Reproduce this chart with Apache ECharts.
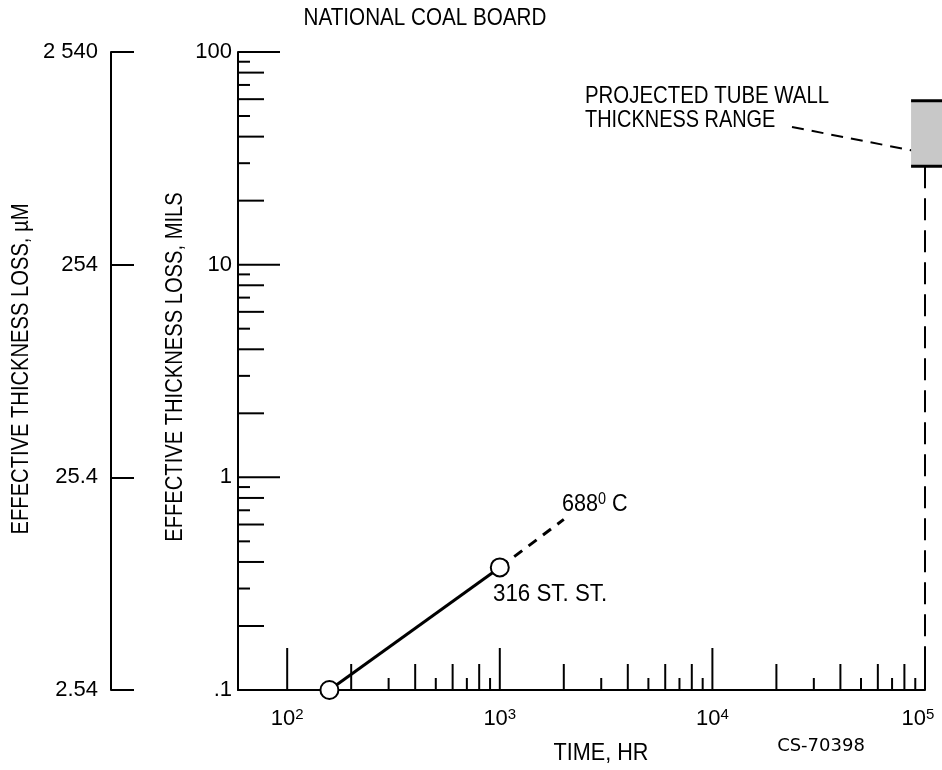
<!DOCTYPE html>
<html>
<head>
<meta charset="utf-8">
<script src="https://cdn.jsdelivr.net/npm/echarts@6/dist/echarts.min.js"></script>
<style>
html, body { margin: 0; background: #fff; }
#chart { width: 942px; height: 770px; }
</style>
</head>
<body>
<div id="chart"></div>
<script>
// 316 ST. ST. measured loss (hours, mils)
const measuredHours = [158, 1000];
const measuredLoss = [0.1, 0.377];
// dashed extrapolation
const extrapHours = [1000, 2000];
const extrapLoss = [0.377, 0.634];
// projected tube wall thickness range, mils
const wallHours = [86000, 130000];
const wallLoss = [29, 59];
const dropHours = [100000, 100000];
const dropLoss = [29, 0.1];

// axes
const xMin = 58.7;
const xDecades = [100, 1000, 10000, 100000];
const yDecades = [0.1, 1, 10, 100];
const milLabels = ['.1', '1', '10', '100'];
const umLabels = ['2.54', '25.4', '254', '2 540'];
const minorSteps = [2, 3, 4, 5, 6, 7, 8, 9];

const FONT = "'Liberation Sans', Arial, sans-serif";
const tickLen = [42, 26, 12];

function tickList(decades) {
    let out = [];
    decades.forEach(function (d, i) {
        out.push([d, 0]);
        if (i < decades.length - 1) {
            minorSteps.forEach(function (m) {
                out.push([d * m, m % 2 === 0 ? 1 : 2]);
            });
        }
    });
    return out;
}

const xTicks = tickList(xDecades).map(function (t) { return [t[0], yDecades[0], t[1]]; });
const yTicks = tickList(yDecades).map(function (t) { return [xMin, t[0], t[1]]; });

function zip(a, b) {
    return a.map(function (v, i) { return [v, b[i]]; });
}

// condensed-looking text: regular font squeezed horizontally
function label(text, x, y, align, sx, extra) {
    let el = {
        type: 'text', x: x, y: y, scaleX: sx,
        style: { text: text, font: '24px ' + FONT, fill: '#000', align: align, verticalAlign: 'middle' }
    };
    return Object.assign(el, extra || {});
}

let chart = echarts.init(document.getElementById('chart'));

let option = {
    animation: false,
    backgroundColor: '#fff',
    textStyle: { fontFamily: FONT, color: '#000' },
    grid: { left: 238, right: 17, top: 52, bottom: 80, containLabel: false, outerBoundsMode: 'none' },
    xAxis: {
        type: 'log',
        logBase: 10,
        min: xMin,
        max: 100000,
        axisLine: { lineStyle: { color: '#000', width: 2 } },
        axisTick: { show: false },
        splitLine: { show: false },
        axisLabel: {
            margin: 17,
            showMinLabel: true,
            formatter: function (v) {
                let e = Math.round(Math.log10(v));
                if (Math.abs(Math.log10(v) - e) > 1e-6) return '';
                return '{b|10}' + (e === 5 ? '{e|' : '{s|') + e + '}';
            },
            rich: {
                b: { fontFamily: FONT, fontSize: 22, lineHeight: 24, color: '#000' },
                s: { fontFamily: FONT, fontSize: 15, lineHeight: 15, verticalAlign: 'top', color: '#000' },
                e: { fontFamily: FONT, fontSize: 15, lineHeight: 15, verticalAlign: 'top', color: '#000', padding: [0, 14, 0, 0] }
            }
        }
    },
    yAxis: [{
        type: 'log',
        logBase: 10,
        min: 0.1,
        max: 100,
        position: 'left',
        axisLine: { lineStyle: { color: '#000', width: 2 } },
        axisTick: { show: false },
        splitLine: { show: false },
        axisLabel: {
            margin: 6,
            fontFamily: FONT,
            fontSize: 22,
            color: '#000',
            formatter: function (v) {
                return milLabels[Math.round(Math.log10(v)) + 1];
            }
        }
    }, {
        // micrometre scale, one step per decade
        type: 'value',
        min: 0,
        max: 3,
        interval: 1,
        position: 'left',
        offset: 127,
        axisLine: { show: true, lineStyle: { color: '#000', width: 2 } },
        axisTick: { show: true, inside: true, length: 23, lineStyle: { color: '#000', width: 2 } },
        splitLine: { show: false },
        axisLabel: {
            margin: 13,
            fontFamily: FONT,
            fontSize: 22,
            color: '#000',
            formatter: function (v) { return umLabels[Math.round(v)]; }
        }
    }],
    series: [{
        type: 'custom',
        clip: false,
        silent: true,
        encode: { x: 0, y: 1 },
        data: xTicks,
        renderItem: function (params, api) {
            let p = api.coord([api.value(0), api.value(1)]);
            return {
                type: 'line',
                shape: { x1: p[0], y1: p[1], x2: p[0], y2: p[1] - tickLen[api.value(2)] },
                style: { stroke: '#000', lineWidth: 2 }
            };
        }
    }, {
        type: 'custom',
        clip: false,
        silent: true,
        encode: { x: 0, y: 1 },
        data: yTicks,
        renderItem: function (params, api) {
            let p = api.coord([api.value(0), api.value(1)]);
            return {
                type: 'line',
                shape: { x1: p[0], y1: p[1], x2: p[0] + tickLen[api.value(2)], y2: p[1] },
                style: { stroke: '#000', lineWidth: 2 }
            };
        }
    }, {
        // shaded wall thickness range
        type: 'custom',
        clip: false,
        silent: true,
        encode: { x: [0, 2], y: [1, 3] },
        data: [[wallHours[0], wallLoss[0], wallHours[1], wallLoss[1]]],
        renderItem: function (params, api) {
            let a = api.coord([api.value(0), api.value(3)]);
            let b = api.coord([api.value(2), api.value(1)]);
            return {
                type: 'group',
                children: [{
                    type: 'rect',
                    shape: { x: a[0], y: a[1], width: b[0] - a[0], height: b[1] - a[1] },
                    style: { fill: '#c8c8c8' }
                }, {
                    type: 'line',
                    shape: { x1: a[0], y1: a[1], x2: b[0], y2: a[1] },
                    style: { stroke: '#000', lineWidth: 3 }
                }, {
                    type: 'line',
                    shape: { x1: a[0], y1: b[1], x2: b[0], y2: b[1] },
                    style: { stroke: '#000', lineWidth: 3 }
                }]
            };
        }
    }, {
        type: 'line',
        clip: false,
        silent: true,
        symbol: 'none',
        data: zip(dropHours, dropLoss),
        lineStyle: { color: '#000', width: 2, type: [22, 10] }
    }, {
        type: 'line',
        clip: false,
        silent: true,
        symbol: 'none',
        data: zip(extrapHours, extrapLoss),
        lineStyle: { color: '#000', width: 3, type: [10, 8] }
    }, {
        type: 'line',
        clip: false,
        silent: true,
        z: 5,
        symbol: 'circle',
        symbolSize: 18,
        data: zip(measuredHours, measuredLoss),
        itemStyle: { color: '#fff', borderColor: '#000', borderWidth: 2 },
        lineStyle: { color: '#000', width: 3 }
    }],
    graphic: [
        label('NATIONAL COAL BOARD', 425, 18, 'center', 0.86),
        label('EFFECTIVE THICKNESS LOSS, µM', 21, 369, 'center', 0.84, { rotation: Math.PI / 2 }),
        label('EFFECTIVE THICKNESS LOSS, MILS', 175, 367, 'center', 0.84, { rotation: Math.PI / 2 }),
        label('TIME, HR', 601, 753, 'center', 0.9),
        label('PROJECTED TUBE WALL', 585, 96, 'left', 0.85),
        label('THICKNESS RANGE', 585, 120, 'left', 0.83),
        label('316 ST. ST.', 493, 594, 'left', 0.93),
        { type: 'text', x: 821, y: 746, style: { text: 'CS-70398', font: "18px 'DejaVu Sans', sans-serif", fill: '#000', align: 'center', verticalAlign: 'middle' } },
        { type: 'line', shape: { x1: 792, y1: 127, x2: 920, y2: 152 }, style: { stroke: '#000', lineWidth: 2, lineDash: [12, 8] } },
        {
            type: 'text', x: 562, y: 504, scaleX: 0.9,
            style: {
                text: '{a|688}{s|0}{a| C}',
                fill: '#000', align: 'left', verticalAlign: 'middle',
                rich: {
                    a: { fontFamily: FONT, fontSize: 24, lineHeight: 24 },
                    s: { fontFamily: FONT, fontSize: 16, lineHeight: 16, verticalAlign: 'top' }
                }
            }
        }
    ]
};

chart.setOption(option);
</script>
</body>
</html>
